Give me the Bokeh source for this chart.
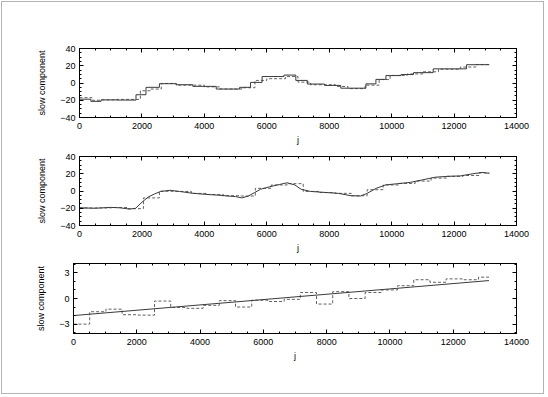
from bokeh.plotting import figure
from bokeh.layouts import column, row
from bokeh.models import Range1d, LinearAxis, SingleIntervalTicker, CustomJSTickFormatter
from bokeh.embed import file_html
from bokeh.resources import INLINE

FONT = "Liberation Sans"

# ---------------- data ----------------
# Panel 1: two step series
p1_solid_edges = [0, 365, 690, 1200, 1810, 2130, 2560, 3100, 3630, 4380, 5130, 5480,
                  5850, 6550, 6930, 7300, 7850, 8370, 9175, 9496, 9817, 10300,
                  10700, 11330, 12400, 13130]
p1_solid_levels = [-18.8, -21.3, -19.6, -19.8, -13.6, -5.0, -0.8, -2.0, -3.9, -7.0,
                   -5.0, 0.7, 7.5, 9.2, 3.0, -1.2, -2.8, -6.0, -1.0, 4.2, 8.6,
                   9.8, 12.0, 16.4, 21.2]
p1_dash_edges = [0, 400, 700, 1200, 1950, 2280, 2620, 3100, 4000, 4500, 5200, 5620,
                 6000, 6600, 7000, 7400, 8200, 8600, 9150, 9600, 9950, 10500,
                 11000, 11500, 12200, 12700, 13130]
p1_dash_levels = [-17.0, -20.0, -19.5, -19.0, -9.0, -7.0, -0.5, -2.5, -4.5, -7.0,
                  -5.5, 3.0, 5.0, 7.5, 1.0, -2.0, -4.0, -6.5, -2.5, 4.0, 8.8,
                  10.5, 13.0, 16.0, 18.5, 21.5]

# Panel 2: smooth curve and block step series
p2_curve_j = [0, 500, 1000, 1300, 1600, 1800, 2000, 2200, 2400, 2600, 2900, 3200,
              3600, 4000, 4500, 5000, 5200, 5400, 5600, 5800, 6100, 6400, 6650,
              6900, 7100, 7400, 7800, 8300, 8700, 9000, 9200, 9500, 9800, 10200,
              10600, 11000, 11400, 11800, 12200, 12600, 12900, 13130]
p2_curve_v = [-19.5, -20.0, -19.0, -19.5, -21.0, -20.0, -13.0, -7.0, -3.5, -0.5,
              0.8, -0.5, -2.5, -3.8, -5.0, -6.5, -8.0, -6.0, -2.0, 2.0, 5.0, 7.5,
              9.5, 7.0, 2.0, -0.5, -1.5, -2.8, -5.5, -5.8, -3.0, 3.0, 7.0, 8.5,
              10.0, 13.0, 16.0, 17.0, 17.5, 20.0, 21.5, 20.5]
p2_dash_edges = [0, 512, 1024, 1536, 2048, 2560, 3072, 3584, 4096, 4608, 5120, 5632,
                 6144, 6656, 7168, 7680, 8192, 8704, 9216, 9728, 10240, 10752,
                 11264, 11776, 12288, 12800, 13130]
p2_dash_levels = [-19.7, -19.6, -19.2, -20.5, -8.0, -0.3, -0.5, -2.8, -4.0, -5.5,
                  -5.8, 3.1, 7.0, 8.5, -0.5, -1.8, -2.7, -5.5, 1.5, 7.0, 8.8,
                  11.5, 15.0, 17.0, 18.0, 21.0]

# Panel 3: straight trend and block step series
p3_line_j = [0, 13130]
p3_line_v = [-2.0, 2.1]
p3_dash_edges = p2_dash_edges
p3_dash_levels = [-3.0, -1.55, -1.25, -1.9, -1.95, -0.3, -1.05, -1.15, -0.8, -0.25,
                  -1.0, -0.2, -0.35, -0.1, 0.7, -0.65, 0.8, 0.0, 0.7, 1.0, 1.5,
                  2.2, 1.9, 2.3, 2.2, 2.5]

X_TICKS = 2000
SOLID = "#3a3a3a"
DASH = "#606060"


def step_xy(edges, levels):
    return list(edges), list(levels) + [levels[-1]]


def style_axis(ax):
    ax.axis_line_color = "black"
    ax.major_tick_line_color = "black"
    ax.minor_tick_line_color = "black"
    ax.major_tick_out = 0
    ax.minor_tick_out = 0
    ax.major_tick_in = 4
    ax.minor_tick_in = 2
    ax.major_label_text_font = FONT
    ax.major_label_text_font_size = "9px"
    ax.major_label_text_color = "black"
    ax.axis_label_text_font = FONT
    ax.axis_label_text_font_size = "9px"
    ax.axis_label_text_font_style = "normal"
    ax.axis_label_text_color = "black"


def mirror_axis(ticker):
    ax = LinearAxis(ticker=ticker,
                    formatter=CustomJSTickFormatter(code="return ''"))
    style_axis(ax)
    ax.major_label_standoff = 0
    return ax


def make_fig(ylo, yhi, yint, yminor, left, top, bottom, fw, fh):
    p = figure(frame_width=fw, frame_height=fh,
               x_range=Range1d(0, 14000), y_range=Range1d(ylo, yhi),
               output_backend="svg", toolbar_location=None,
               min_border_left=left, min_border_right=22,
               min_border_top=top, min_border_bottom=bottom,
               background_fill_color="white", border_fill_color="white",
               outline_line_color="black", x_axis_label="j",
               y_axis_label="slow component")
    p.grid.visible = False
    p.xaxis.ticker = SingleIntervalTicker(interval=X_TICKS, num_minor_ticks=4)
    p.yaxis.ticker = SingleIntervalTicker(interval=yint, num_minor_ticks=yminor)
    for ax in p.xaxis:
        style_axis(ax)
        ax.major_label_standoff = 5
        ax.axis_label_standoff = 3
    for ax in p.yaxis:
        style_axis(ax)
        ax.major_label_standoff = 4
        ax.axis_label_standoff = 10
    p.add_layout(mirror_axis(SingleIntervalTicker(interval=X_TICKS, num_minor_ticks=4)), "above")
    p.add_layout(mirror_axis(SingleIntervalTicker(interval=yint, num_minor_ticks=yminor)), "right")
    return p


# borders are 2px smaller than the page positions: the outer frame adds 1px margin + 1px border
p1 = make_fig(-40, 40, 20, 4, 77, 46, 30, 437, 69)
x, y = step_xy(p1_dash_edges, p1_dash_levels)
p1.step(x, y, mode="after", line_color=DASH, line_width=1, line_dash="3 2")
x, y = step_xy(p1_solid_edges, p1_solid_levels)
p1.step(x, y, mode="after", line_color=SOLID, line_width=1)

p2 = make_fig(-40, 40, 20, 4, 77, 9, 30, 437, 69)
x, y = step_xy(p2_dash_edges, p2_dash_levels)
p2.step(x, y, mode="after", line_color=DASH, line_width=1, line_dash="3 2")
p2.line(p2_curve_j, p2_curve_v, line_color=SOLID, line_width=1)

p3 = make_fig(-4.1, 4.1, 3, 3, 71, 8, 50, 443, 70)
x, y = step_xy(p3_dash_edges, p3_dash_levels)
p3.step(x, y, mode="after", line_color=DASH, line_width=1, line_dash="3 2")
p3.line(p3_line_j, p3_line_v, line_color=SOLID, line_width=1)

layout = column(column(p1, p2, spacing=0), row(p3), spacing=0,
                width=543, height=393,
                styles={"border": "1px solid #b4b4b4", "margin": "1px",
                        "background-color": "white"})
open("out.html", "w").write(file_html(layout, INLINE))
